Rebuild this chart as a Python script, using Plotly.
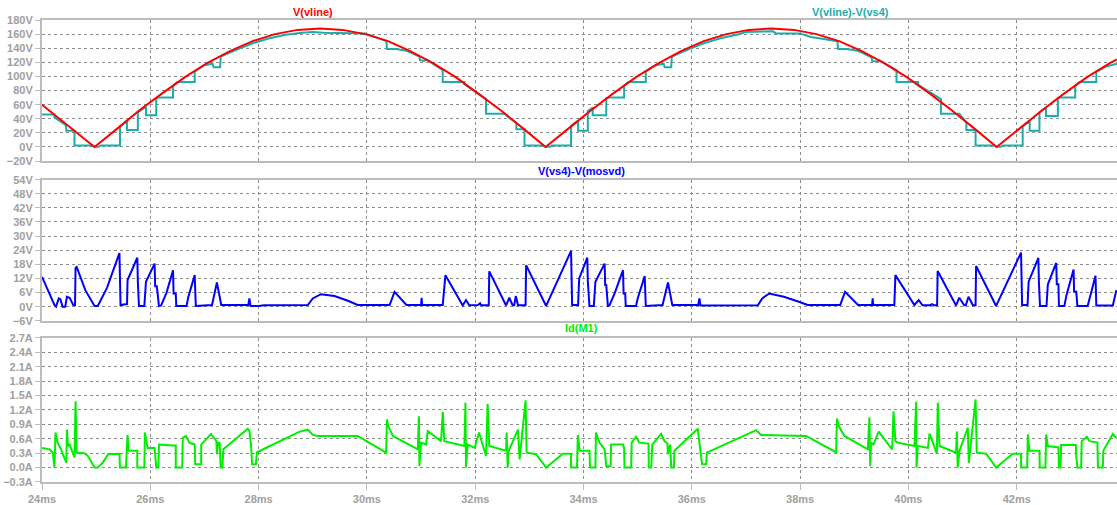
import plotly.graph_objects as go

# ---------------- data (time in ms) ----------------
t_vline = [24.00, 24.55, 24.97, 25.39, 25.80, 26.22, 26.64, 27.05, 27.47, 27.89, 28.30, 28.72,
           29.14, 29.55, 29.97, 30.39, 30.80, 31.22, 31.64, 32.05, 32.47, 32.89, 33.30,
           33.72, 34.14, 34.55, 34.97, 35.39, 35.80, 36.22, 36.64, 37.05, 37.47, 37.89,
           38.30, 38.72, 39.14, 39.55, 39.97, 40.39, 40.80, 41.22, 41.63, 42.05, 42.47,
           42.88, 43.30, 43.72, 43.85]
v_vline = [60, 26, 0, 26, 52, 76, 99, 119, 136, 150, 160, 166,
           168, 166, 160, 150, 136, 119, 99, 76, 52, 26, 0,
           26, 52, 76, 99, 119, 136, 150, 160, 166, 168, 166,
           160, 150, 136, 119, 99, 76, 52, 26, 0, 26, 52,
           76, 99, 119, 124]

t_diff = [24.00, 24.23, 24.23, 24.44, 24.45, 24.60, 24.60, 24.93, 24.97, 25.05, 25.08, 25.44,
          25.44, 25.57, 25.57, 25.77, 25.77, 25.92, 25.92, 26.11, 26.11, 26.16, 26.42, 26.42,
          26.50, 26.82, 26.82, 27.00, 27.15, 27.17, 27.29, 27.30, 27.60, 27.89, 28.20, 28.50,
          28.80, 29.00, 29.20, 29.60, 29.96,
          30.15, 30.36, 30.37, 30.54, 30.75, 30.97, 30.98, 31.06, 31.10, 31.40, 31.40, 31.80,
          31.80, 32.20, 32.20, 32.54, 32.62, 32.76, 32.76, 32.91, 32.91, 33.26, 33.30, 33.38,
          33.41, 33.77,
          33.77, 33.90, 33.90, 34.08, 34.08, 34.17, 34.17, 34.42, 34.42, 34.48, 34.75, 34.75,
          34.83, 35.15, 35.15, 35.33, 35.48, 35.50, 35.62, 35.63, 35.93, 36.22, 36.53, 36.83,
          37.00, 37.50, 37.55, 37.99,
          38.20, 38.69, 38.70, 38.87, 39.08, 39.32, 39.33, 39.42, 39.46, 39.78, 39.78, 40.18,
          40.18, 40.60, 40.60, 40.94, 41.07, 41.07, 41.24, 41.24, 41.59, 41.63, 41.71, 41.74,
          42.11,
          42.11, 42.24, 42.24, 42.42, 42.42, 42.54, 42.54, 42.76, 42.76, 42.80, 43.08, 43.08,
          43.16, 43.47, 43.47, 43.65, 43.85]
v_diff = [46, 46, 42, 31, 23, 23, 2, 2, 0.3, 0.3, 2, 2,
          29, 37, 24, 24, 49, 57, 45, 45, 69, 70, 70, 87,
          92, 92, 107, 116, 118, 113, 113, 128, 138, 147, 154, 159,
          162, 163, 162, 162, 161,
          156, 150, 139, 139, 136, 128, 123, 122, 124, 109, 92, 92,
          89, 68, 47, 47, 42, 34, 25, 25, 2, 2, 0.3, 0.3,
          2, 2,
          30, 37, 23, 23, 51, 56, 45, 45, 69, 70, 70, 87,
          92, 92, 107, 116, 118, 113, 113, 128, 138, 147, 154, 159,
          163, 164, 161, 161,
          156, 150, 139, 139, 136, 127, 122, 121, 123, 109, 92, 92,
          88, 68, 47, 47, 35, 24, 24, 2, 2, 0.3, 0.3, 2,
          2,
          29, 37, 23, 23, 49, 56, 44, 44, 69, 70, 70, 87,
          92, 92, 107, 114, 118]

t_mos = [24.00, 24.10, 24.23, 24.26, 24.31, 24.34, 24.38, 24.43, 24.46, 24.51, 24.58, 24.61,
         24.62, 24.64, 24.80, 24.97, 25.03, 25.20, 25.43, 25.45, 25.57, 25.58, 25.76, 25.77,
         25.79, 25.89, 25.92, 26.08, 26.09, 26.12, 26.16, 26.20, 26.30, 26.42, 26.43, 26.47,
         26.48, 26.67, 26.70, 26.82, 26.84, 27.14, 27.23, 27.31, 27.81, 27.83, 27.85, 28.00,
         28.10, 28.91, 29.00, 29.15, 29.40, 29.65, 29.83, 30.42, 30.51, 30.73, 31.00, 31.01,
         31.02, 31.40, 31.45, 31.77, 31.83, 31.89, 32.05, 32.09, 32.11, 32.25, 32.26, 32.57,
         32.63, 32.69, 32.72, 32.75, 32.79, 32.93, 32.94, 33.31, 33.77, 33.79, 33.90, 33.92,
         34.07, 34.08, 34.11, 34.19, 34.22, 34.39, 34.40, 34.42, 34.45, 34.48, 34.58, 34.73,
         34.74, 34.77, 34.78, 34.97, 35.00, 35.13, 35.15, 35.46, 35.56, 35.64, 36.12, 36.14,
         36.16, 37.22, 37.30, 37.43, 37.70, 37.95, 38.14, 38.74, 38.83, 39.07, 39.33, 39.34,
         39.35, 39.74, 39.76, 40.11, 40.19, 40.26, 40.40, 40.44, 40.47, 40.53, 40.54, 40.88,
         40.94, 41.03, 41.06, 41.11, 41.19, 41.24, 41.25, 41.62, 42.08, 42.10, 42.20, 42.22,
         42.40, 42.41, 42.43, 42.55, 42.575, 42.73, 42.74, 42.77, 42.78, 42.88, 42.92, 43.05,
         43.06, 43.10, 43.12, 43.31, 43.35, 43.455, 43.47, 43.775, 43.84]
v_mos = [12.7, 7.5, 0.7, 0, 3.5, 3.2, 0, 0, 4.2, 3.8, 0.6, 0.6,
         16.5, 16.9, 7, 0.3, 0.3, 8, 22.8, 0.7, 1.1, 11.3, 20.8, 10.6,
         0.3, 0.3, 10.6, 18.3, 8.7, 8.7, 0.3, 0.5, 6, 15.5, 5.6, 5.6,
         0.3, 0.3, 4, 13.4, 0.3, 0.7, 10.3, 0.7, 0.7, 3.5, 0.3, 0.3,
         0.6, 0.7, 3.5, 5.3, 4.5, 2.5, 0.7, 0.7, 6.3, 0.7, 0.7, 3.8,
         0.7, 0.7, 13.4, 0.5, 2.8, 0.6, 0.7, 1.4, 0.6, 0.6, 15, 0.5,
         3.8, 0.6, 0.6, 4.5, 0.6, 0.6, 17.6, 0.3, 23.7, 0.7, 0.7, 12,
         20.8, 10.6, 0.3, 0.3, 10.6, 18.3, 9.2, 9.2, 0.3, 0.5, 6, 15.5,
         5.6, 5.6, 0.3, 0.3, 3.5, 13, 0.3, 0.7, 10.3, 0.7, 0.7, 3.5,
         0.5, 0.6, 3.5, 5.6, 4.2, 2.3, 0.7, 0.7, 6.3, 0.7, 0.7, 3.5,
         0.7, 0.7, 13.4, 0.7, 2.8, 0.6, 0.6, 1.1, 0.6, 0.6, 15.2, 0.5,
         3.8, 0.6, 0.6, 4.2, 0.6, 0.6, 17.3, 0.3, 23, 0.7, 0.7, 10.6,
         20.7, 10.3, 0.3, 0.3, 9.5, 18.6, 9.5, 9.5, 0.3, 0.3, 5, 15.8,
         6.3, 6.3, 0.3, 0.3, 4, 13.1, 0.5, 0.5, 7]

t_id = [24.00, 24.14, 24.20, 24.23, 24.25, 24.29, 24.35, 24.42, 24.45, 24.46, 24.48, 24.51,
        24.60, 24.62, 24.64, 24.78, 24.85, 24.97, 25.03, 25.12, 25.22, 25.43, 25.44, 25.55,
        25.58, 25.60, 25.76, 25.76, 25.89, 25.90, 25.95, 26.08, 26.09, 26.11, 26.15, 26.16,
        26.42, 26.47, 26.47, 26.59, 26.60, 26.66, 26.72, 26.82, 26.83, 26.94, 26.94, 27.12,
        27.22, 27.23, 27.25, 27.28, 27.30, 27.33, 27.35, 27.80, 27.83, 27.86, 27.88, 27.95,
        27.97, 28.76, 28.91, 29.00, 29.10, 29.83, 30.355, 30.37, 30.40, 30.48, 30.94, 30.96,
        30.97, 31.00, 31.09, 31.125, 31.37, 31.40, 31.43, 31.80, 31.82, 31.83, 31.86, 31.99,
        32.07, 32.20, 32.23, 32.26, 32.57, 32.58, 32.60, 32.62, 32.79, 32.82, 32.93, 32.95,
        33.125, 33.31, 33.62, 33.77, 33.77, 33.88, 33.895, 33.93, 34.11, 34.12, 34.22, 34.23,
        34.295, 34.39, 34.405, 34.42, 34.50, 34.51, 34.73, 34.75, 34.757, 34.88, 34.89, 34.97,
        35.03, 35.20, 35.206, 35.25, 35.27, 35.434, 35.495, 35.55, 35.557, 35.588, 35.60, 35.62,
        35.67, 35.68, 36.11, 36.14, 36.17, 36.19, 36.265, 36.277, 37.19, 37.28, 38.11, 38.665,
        38.68, 38.72, 38.82, 39.25, 39.28, 39.295, 39.31, 39.355, 39.45, 39.70, 39.725, 39.76,
        39.80, 40.112, 40.143, 40.15, 40.174, 40.36, 40.39, 40.525, 40.543, 40.574, 40.88, 40.894,
        40.91, 40.943, 41.097, 41.116, 41.24, 41.263, 41.436, 41.62, 41.93, 42.08, 42.082, 42.193,
        42.205, 42.236, 42.42, 42.425, 42.53, 42.544, 42.575, 42.77, 42.78, 42.81, 42.82, 43.09,
        43.10, 43.12, 43.19, 43.20, 43.295, 43.345, 43.49, 43.50, 43.59, 43.60, 43.775, 43.84]
i_id = [0.41, 0.38, 0.31, 0.0, 0.73, 0.52, 0.38, 0.17, 0.10, 0.79, 0.45, 0.48,
        0.21, 1.38, 0.31, 0.30, 0.24, 0.0, 0.0, 0.10, 0.28, 0.29, 0.0, 0.0,
        0.68, 0.35, 0.35, 0.0, 0.0, 0.73, 0.41, 0.41, 0.24, 0.0, 0.0, 0.48,
        0.46, 0.46, 0.0, 0.0, 0.62, 0.66, 0.52, 0.48, 0.07, 0.07, 0.48, 0.70,
        0.55, 0.28, 0.52, 0.52, 0.0, 0.0, 0.38, 0.81, 0.76, 0.48, 0.07, 0.07,
        0.32, 0.75, 0.79, 0.68, 0.66, 0.66, 0.31, 1.00, 0.85, 0.66, 0.38, 1.07,
        0.03, 0.52, 0.48, 0.76, 0.55, 1.16, 0.55, 0.45, 1.35, 0.0, 0.48, 0.41,
        0.73, 0.24, 1.33, 0.45, 0.35, 0.73, 0.0, 0.35, 0.79, 0.17, 1.40, 0.31,
        0.28, 0.0, 0.29, 0.29, 0.0, 0.0, 0.68, 0.35, 0.35, 0.0, 0.0, 0.73,
        0.52, 0.38, 0.21, 0.03, 0.03, 0.48, 0.48, 0.40, 0.0, 0.0, 0.52, 0.64,
        0.52, 0.50, 0.0, 0.0, 0.48, 0.70, 0.55, 0.50, 0.28, 0.48, 0.48, 0.0,
        0.0, 0.35, 0.81, 0.52, 0.28, 0.07, 0.07, 0.31, 0.78, 0.68, 0.66, 0.32,
        1.02, 0.85, 0.66, 0.38, 1.05, 0.03, 0.52, 0.48, 0.75, 0.38, 1.17, 0.55,
        0.52, 0.45, 1.37, 0.0, 0.45, 0.41, 0.71, 0.29, 1.35, 0.45, 0.31, 0.75,
        0.0, 0.35, 0.83, 0.10, 1.42, 0.31, 0.29, 0.0, 0.29, 0.29, 0.0, 0.0,
        0.69, 0.35, 0.35, 0.0, 0.0, 0.69, 0.45, 0.42, 0.0, 0.0, 0.47, 0.47,
        0.24, 0.0, 0.0, 0.55, 0.64, 0.55, 0.52, 0.0, 0.0, 0.35, 0.70, 0.62]

x_range = [24, 43.852]

# ---------------- styling ----------------
FONT = "Liberation Sans"
LABEL_GRAY = "#a0a0a0"
GRID_GRAY = "#8c8c8c"
FRAME_GRAY = "#bcbcbc"
CYAN = "#1aadad"

fig = go.Figure()
fig.add_trace(go.Scatter(x=t_diff, y=v_diff, mode="lines", line=dict(color=CYAN, width=2),
                         xaxis="x", yaxis="y", name="V(vline)-V(vs4)"))
fig.add_trace(go.Scatter(x=t_vline, y=v_vline, mode="lines", line=dict(color="#ff0000", width=2),
                         xaxis="x", yaxis="y", name="V(vline)"))
fig.add_trace(go.Scatter(x=t_mos, y=v_mos, mode="lines", line=dict(color="#0000ff", width=2),
                         xaxis="x2", yaxis="y2", name="V(vs4)-V(mosvd)"))
fig.add_trace(go.Scatter(x=t_id, y=i_id, mode="lines", line=dict(color="#00ee00", width=2),
                         xaxis="x3", yaxis="y3", name="Id(M1)"))

tickfont = dict(family=FONT, size=11, color=LABEL_GRAY, weight="bold")
xcommon = dict(range=x_range, tick0=24, dtick=2, showgrid=True, gridcolor=GRID_GRAY,
               griddash="3px,3px", gridwidth=1, zeroline=False, showline=True, mirror=True,
               linecolor=FRAME_GRAY, linewidth=2)
ycommon = dict(showgrid=True, gridcolor=GRID_GRAY, griddash="3px,3px", gridwidth=1,
               zeroline=False, showline=True, linecolor=FRAME_GRAY, linewidth=2,
               ticks="outside", ticklen=5, tickcolor=FRAME_GRAY, tickwidth=1,
               tickfont=tickfont)

fig.update_layout(
    width=1117, height=505,
    margin=dict(l=42, r=0, t=20, b=20),
    paper_bgcolor="white", plot_bgcolor="white",
    showlegend=False,
    xaxis=dict(**xcommon, anchor="y", showticklabels=False),
    xaxis2=dict(**xcommon, anchor="y2", matches="x", showticklabels=False),
    xaxis3=dict(**xcommon, anchor="y3", matches="x", showticklabels=True, ticks="outside",
                ticklen=6, tickcolor=FRAME_GRAY, ticksuffix="ms", tickfont=tickfont),
    yaxis=dict(**ycommon, domain=[0.6946, 1.0], range=[-20, 180], tick0=0, dtick=20,
               ticksuffix="V"),
    yaxis2=dict(**ycommon, domain=[0.349, 0.6544], range=[-6, 54], tick0=0, dtick=6,
                ticksuffix="V"),
    yaxis3=dict(**ycommon, domain=[0.0, 0.3118], range=[-0.3, 2.7], tick0=0, dtick=0.3,
                tickformat=".1f", ticksuffix="A"),
)

title_font = dict(family=FONT, size=11)
titles = [
    ("V(vline)", 29.0, 1.017, "#ff0000"),
    ("V(vline)-V(vs4)", 38.93, 1.017, CYAN),
    ("V(vs4)-V(mosvd)", 33.96, 0.673, "#0000ff"),
    ("Id(M1)", 33.96, 0.333, "#00ee00"),
]
for text, xpos, ypos, col in titles:
    fig.add_annotation(text="<b>%s</b>" % text, x=xpos, xref="x", y=ypos, yref="paper",
                       showarrow=False, xanchor="center", yanchor="middle",
                       font=dict(**title_font, color=col))

fig.write_html("out.html")
